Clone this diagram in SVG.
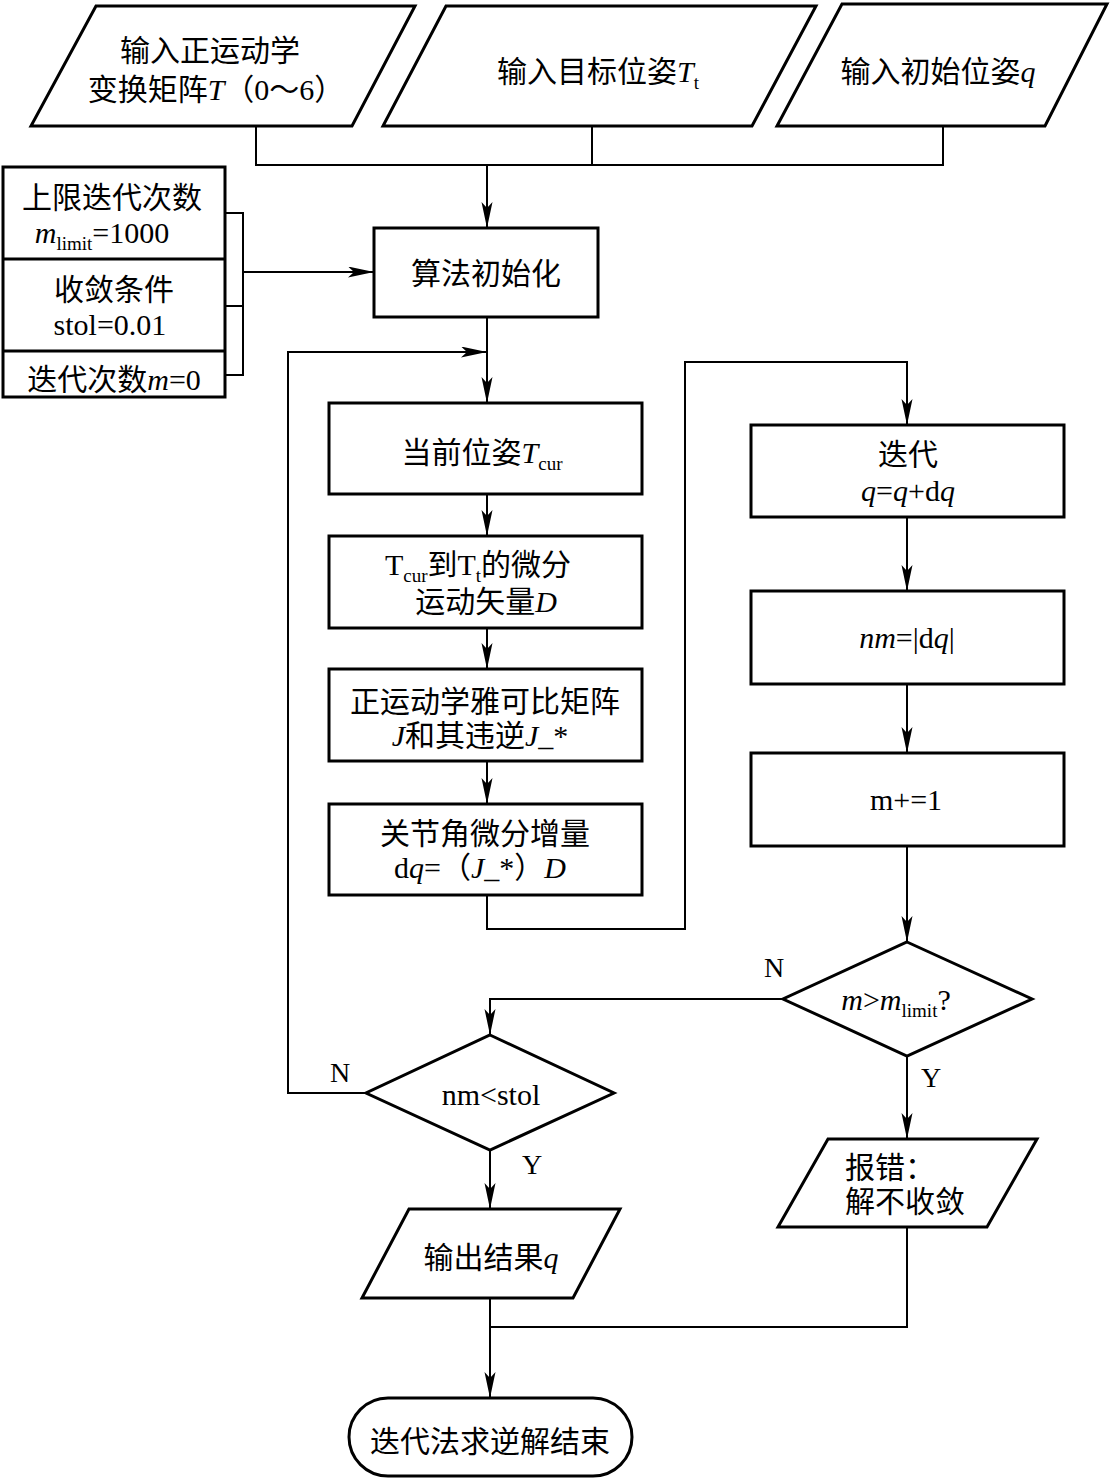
<svg xmlns="http://www.w3.org/2000/svg" width="1112" height="1480" viewBox="0 0 1112 1480">
<style>
.shape{fill:#fff;stroke:#000;stroke-width:3;stroke-linejoin:miter}
.con{fill:none;stroke:#000;stroke-width:2}
.t{font-family:'Liberation Serif','Noto Sans CJK SC',serif;font-size:30px;fill:#000;text-anchor:middle}
.lbl{font-family:'Liberation Serif',serif;font-size:28px;fill:#000;text-anchor:middle}
.i{font-style:italic}
.sub{font-size:19px}
</style>
<defs>
<marker id="ah" markerWidth="28" markerHeight="12" refX="26" refY="5.5" orient="auto" markerUnits="userSpaceOnUse">
<path d="M0,0 L26,5.5 L0,11 L6,5.5 Z" fill="#000"/>
</marker>
</defs>
<rect width="1112" height="1480" fill="#fff"/>

<g id="connectors">
<polyline class="con" points="256,126 256,165 943,165 943,126"/>
<line class="con" x1="592" y1="126" x2="592" y2="165"/>
<line class="con" x1="487" y1="165" x2="487" y2="228" marker-end="url(#ah)"/>
<polyline class="con" points="225,213 243,213 243,375 225,375"/>
<line class="con" x1="225" y1="306" x2="243" y2="306"/>
<line class="con" x1="243" y1="272" x2="374" y2="272" marker-end="url(#ah)"/>
<line class="con" x1="487" y1="317" x2="487" y2="403" marker-end="url(#ah)"/>
<line class="con" x1="487" y1="494" x2="487" y2="536" marker-end="url(#ah)"/>
<line class="con" x1="487" y1="628" x2="487" y2="669" marker-end="url(#ah)"/>
<line class="con" x1="487" y1="761" x2="487" y2="804" marker-end="url(#ah)"/>
<polyline class="con" points="487,895 487,929 685,929 685,362 907,362 907,425" marker-end="url(#ah)"/>
<line class="con" x1="907" y1="517" x2="907" y2="591" marker-end="url(#ah)"/>
<line class="con" x1="907" y1="684" x2="907" y2="753" marker-end="url(#ah)"/>
<line class="con" x1="907" y1="846" x2="907" y2="942" marker-end="url(#ah)"/>
<polyline class="con" points="783,999 490,999 490,1035" marker-end="url(#ah)"/>
<polyline class="con" points="366,1093 288,1093 288,352 487,352" marker-end="url(#ah)"/>
<line class="con" x1="907" y1="1056" x2="907" y2="1139" marker-end="url(#ah)"/>
<line class="con" x1="490" y1="1150" x2="490" y2="1209" marker-end="url(#ah)"/>
<polyline class="con" points="907,1227 907,1327 490,1327"/>
<line class="con" x1="490" y1="1298" x2="490" y2="1398" marker-end="url(#ah)"/>
<text class="lbl" x="774" y="977">N</text>
<text class="lbl" x="340" y="1082">N</text>
<text class="lbl" x="532" y="1174">Y</text>
<text class="lbl" x="931" y="1087">Y</text>
</g>

<g id="in-fk">
<polygon class="shape" points="96,6 415,6 352,126 31,126"/>
<text class="t" x="210" y="61">输入正运动学</text>
<text class="t" x="216" y="100">变换矩阵<tspan class="i">T</tspan>（0～6）</text>
</g>

<g id="in-target">
<polygon class="shape" points="446,6 816,6 752,126 383,126"/>
<text class="t" x="598" y="82">输入目标位姿<tspan class="i">T</tspan><tspan class="sub" dy="7">t</tspan></text>
</g>

<g id="in-init">
<polygon class="shape" points="842,4 1107,4 1045,126 777,126"/>
<text class="t" x="938" y="82">输入初始位姿<tspan class="i">q</tspan></text>
</g>

<g id="params">
<rect class="shape" x="3" y="167" width="222" height="230"/>
<line class="con" style="stroke-width:3" x1="3" y1="259" x2="225" y2="259"/>
<line class="con" style="stroke-width:3" x1="3" y1="351" x2="225" y2="351"/>
<text class="t" x="112" y="208">上限迭代次数</text>
<text class="t" x="102" y="243"><tspan class="i">m</tspan><tspan class="sub" dy="7">limit</tspan><tspan dy="-7">=1000</tspan></text>
<text class="t" x="114" y="300">收敛条件</text>
<text class="t" x="110" y="335">stol=0.01</text>
<text class="t" x="114" y="390">迭代次数<tspan class="i">m</tspan>=0</text>
</g>

<g id="init">
<rect class="shape" x="374" y="228" width="224" height="89"/>
<text class="t" x="486" y="284">算法初始化</text>
</g>

<g id="tcur">
<rect class="shape" x="329" y="403" width="313" height="91"/>
<text class="t" x="482" y="463">当前位姿<tspan class="i">T</tspan><tspan class="sub" dy="7">cur</tspan></text>
</g>

<g id="diff">
<rect class="shape" x="329" y="536" width="313" height="92"/>
<text class="t" x="478" y="575">T<tspan class="sub" dy="7">cur</tspan><tspan dy="-7">到T</tspan><tspan class="sub" dy="7">t</tspan><tspan dy="-7">的微分</tspan></text>
<text class="t" x="486" y="612">运动矢量<tspan class="i">D</tspan></text>
</g>

<g id="jacobian">
<rect class="shape" x="329" y="669" width="313" height="92"/>
<text class="t" x="485" y="712">正运动学雅可比矩阵</text>
<text class="t" x="480" y="746"><tspan class="i">J</tspan>和其违逆<tspan class="i">J</tspan>_*</text>
</g>

<g id="dq">
<rect class="shape" x="329" y="804" width="313" height="91"/>
<text class="t" x="485" y="844">关节角微分增量</text>
<text class="t" x="480" y="878">d<tspan class="i">q</tspan>=（<tspan class="i">J</tspan>_*）<tspan class="i">D</tspan></text>
</g>

<g id="iterate">
<rect class="shape" x="751" y="425" width="313" height="92"/>
<text class="t" x="908" y="465">迭代</text>
<text class="t" x="908" y="501"><tspan class="i">q</tspan>=<tspan class="i">q</tspan>+d<tspan class="i">q</tspan></text>
</g>

<g id="norm">
<rect class="shape" x="751" y="591" width="313" height="93"/>
<text class="t" x="907" y="648"><tspan class="i">nm</tspan>=|d<tspan class="i">q</tspan>|</text>
</g>

<g id="incr">
<rect class="shape" x="751" y="753" width="313" height="93"/>
<text class="t" x="906" y="810">m+=1</text>
</g>

<g id="check-limit">
<polygon class="shape" points="907,942 1032,999 907,1056 783,999"/>
<text class="t" x="896" y="1010"><tspan class="i">m</tspan>&gt;<tspan class="i">m</tspan><tspan class="sub" dy="7">limit</tspan><tspan dy="-7">?</tspan></text>
</g>

<g id="check-tol">
<polygon class="shape" points="490,1035 614,1093 490,1150 366,1093"/>
<text class="t" x="491" y="1105">nm&lt;stol</text>
</g>

<g id="error">
<polygon class="shape" points="828,1139 1037,1139 987,1227 778,1227"/>
<text class="t" x="890" y="1178" style="text-anchor:start" transform="translate(-45,0)">报错：</text>
<text class="t" x="905" y="1212">解不收敛</text>
</g>

<g id="output">
<polygon class="shape" points="409,1209 620,1209 573,1298 362,1298"/>
<text class="t" x="491" y="1268">输出结果<tspan class="i">q</tspan></text>
</g>

<g id="end">
<rect class="shape" x="349" y="1398" width="283" height="78" rx="39" ry="39"/>
<text class="t" x="490" y="1452">迭代法求逆解结束</text>
</g>
</svg>
